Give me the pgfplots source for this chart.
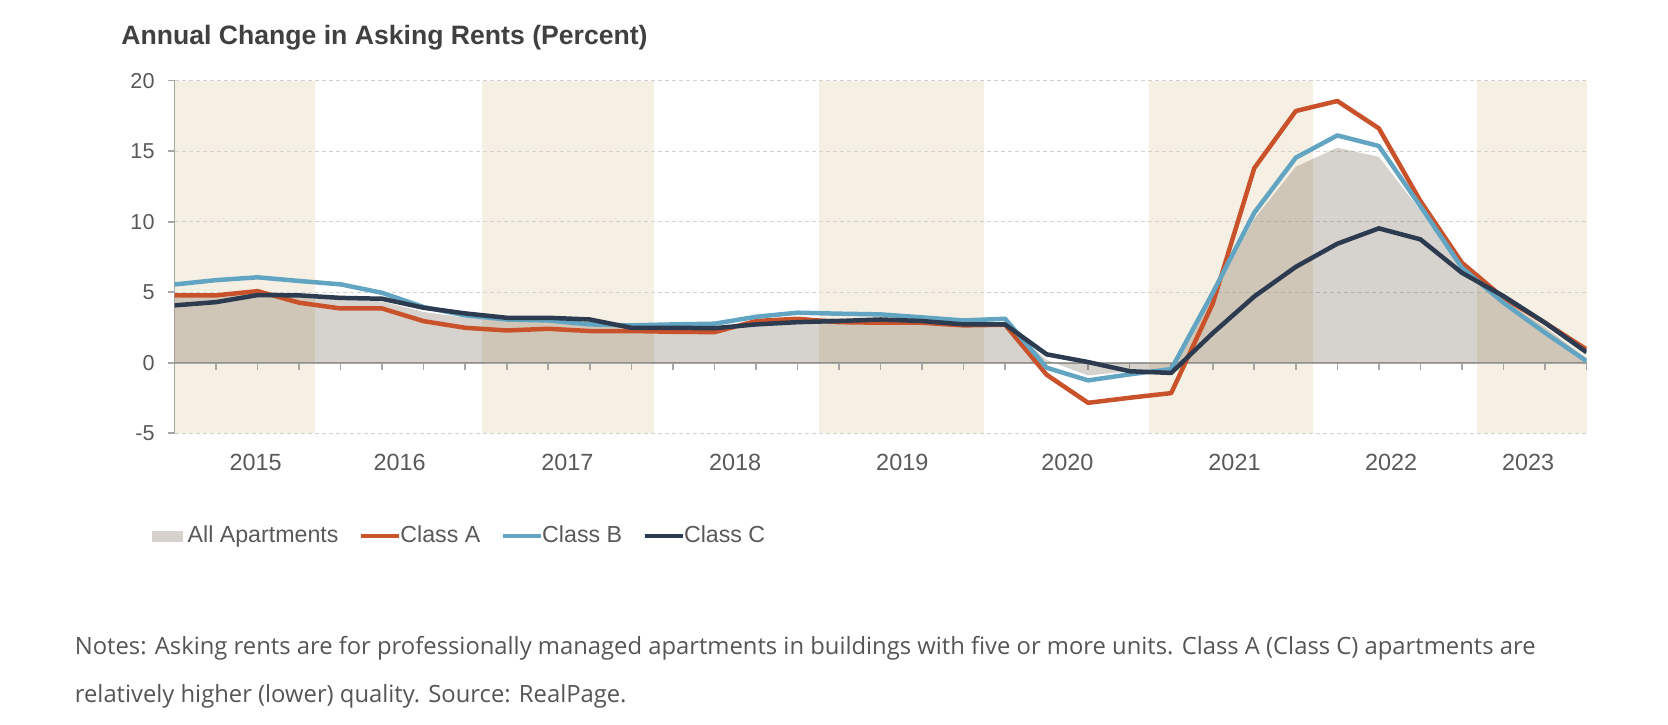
\documentclass[border=0pt]{standalone}
\usepackage{fontspec}
\setmainfont{Liberation Sans}
\newfontfamily\notesfont{Open Sans}
\usepackage{pgfplots}
\pgfplotsset{compat=1.18}

\definecolor{band}{HTML}{F6F0E4}
\definecolor{areaC}{RGB}{92,76,56}
\definecolor{clsA}{HTML}{C9522B}
\definecolor{clsB}{HTML}{62A5C2}
\definecolor{clsC}{HTML}{2C3B4F}
\definecolor{axisgray}{HTML}{A6A6A6}
\definecolor{gridgray}{HTML}{D2D2D2}
\definecolor{labelgray}{HTML}{595959}
\definecolor{titlegray}{HTML}{404040}
\definecolor{notegray}{HTML}{555555}

% quarterly series, 2015Q1 .. 2023Q3 (x = mid-quarter in years)
\begin{document}
\begin{tikzpicture}

\node[anchor=west, inner sep=0pt, text=titlegray, font=\fontsize{13.3bp}{15bp}\selectfont\bfseries]
  at (60.5bp,343.8bp) {Annual Change in Asking Rents (Percent)};

\begin{axis}[
  at={(87.25bp,145.85bp)}, anchor=south west,
  width=706bp, height=176.3bp, scale only axis,
  set layers,
  xmin=2015.125, xmax=2023.625, ymin=-5, ymax=20,
  axis x line=middle, axis y line=left,
  axis line style={-, draw=axisgray, line width=0.8bp},
  hide obscured x ticks=false, hide obscured y ticks=false,
  xtick={2015.375,2015.625,...,2023.7},
  xticklabels={},
  xtick align=outside, ytick align=outside,
  major tick length=3.5bp,
  tick style={axisgray, line width=0.8bp},
  extra x ticks={2015.614,2016.48,2017.49,2018.5,2019.506,2020.5,2021.506,2022.449,2023.274},
  extra x tick labels={2015,2016,2017,2018,2019,2020,2021,2022,2023},
  extra x tick style={major tick length=0pt, tick label style={yshift=-42bp}},
  ytick={-5,0,5,10,15,20},
  yticklabels={-5,0,5,10,15,20},
  ymajorgrids,
  grid style={gridgray, dash pattern=on 2bp off 1.5bp, line width=0.6bp},
  tick label style={text=labelgray},
  yticklabel style={font=\fontsize{10.8bp}{12bp}\selectfont, xshift=-3bp},
  xticklabel style={font=\fontsize{11.7bp}{13bp}\selectfont},
  legend style={at={(-0.0159,-0.2915)}, anchor=west, draw=none, fill=none,
    inner sep=0pt, legend columns=-1, text=labelgray,
    font=\fontsize{11.6bp}{13bp}\selectfont,
    nodes={inner sep=0.6bp},
    /tikz/every odd column/.append style={column sep=-1bp},
    /tikz/every even column/.append style={column sep=9.5bp}},
  legend cell align=left,
]
\pgfplotsextra{%
\begin{pgfonlayer}{axis background}
\fill[band] (axis cs:2015.125,-5) rectangle (axis cs:2015.97,20);
\fill[band] (axis cs:2016.976,-5) rectangle (axis cs:2018.01,20);
\fill[band] (axis cs:2019.005,-5) rectangle (axis cs:2019.995,20);
\fill[band] (axis cs:2020.99,-5) rectangle (axis cs:2021.977,20);
\fill[band] (axis cs:2022.965,-5) rectangle (axis cs:2023.625,20);
\end{pgfonlayer}}

\addplot[draw=none, fill=areaC, fill opacity=0.25,
  legend image code/.code={\fill[areaC, fill opacity=0.25] (0bp,-2.75bp) rectangle (15.5bp,2.75bp);
    \path (0bp,0bp) -- (18bp,0bp);}]
coordinates {
(2015.125,4.8) (2015.375,4.9) (2015.625,5.1) (2015.875,4.8)
(2016.125,4.5) (2016.375,4.35) (2016.625,3.6) (2016.875,3.2)
(2017.125,2.95) (2017.375,2.9) (2017.625,2.65) (2017.875,2.5)
(2018.125,2.5) (2018.375,2.45) (2018.625,2.95) (2018.875,3.2)
(2019.125,3.15) (2019.375,3.05) (2019.625,2.95) (2019.875,2.7)
(2020.125,2.75) (2020.375,0.2) (2020.625,-0.9) (2020.875,-0.6)
(2021.125,-0.45) (2021.375,4.7) (2021.625,10.2) (2021.875,13.9)
(2022.125,15.25) (2022.375,14.6) (2022.625,10.8) (2022.875,6.6)
(2023.125,4.45) (2023.375,2.5) (2023.625,0.3)
} \closedcycle;
\addlegendentry{All Apartments}

\addplot[clsA, line width=2.25bp, line join=round, no markers,
  legend image code/.code={\draw[clsA, line width=2.25bp] (0bp,0bp) -- (19bp,0bp);}]
coordinates {
(2015.125,4.78) (2015.375,4.78) (2015.625,5.08) (2015.875,4.26)
(2016.125,3.85) (2016.375,3.85) (2016.625,2.95) (2016.875,2.48)
(2017.125,2.29) (2017.375,2.41) (2017.625,2.25) (2017.875,2.25)
(2018.125,2.2) (2018.375,2.17) (2018.625,2.96) (2018.875,3.12)
(2019.125,2.88) (2019.375,2.84) (2019.625,2.84) (2019.875,2.65)
(2020.125,2.7) (2020.375,-0.85) (2020.625,-2.84) (2020.875,-2.48)
(2021.125,-2.15) (2021.375,4.2) (2021.625,13.8) (2021.875,17.85)
(2022.125,18.56) (2022.375,16.62) (2022.625,11.47) (2022.875,7.09)
(2023.125,4.6) (2023.375,2.84) (2023.625,0.95)
};
\addlegendentry{Class A}

\addplot[clsB, line width=2.25bp, line join=round, no markers,
  legend image code/.code={\draw[clsB, line width=2.25bp] (0bp,0bp) -- (19bp,0bp);}]
coordinates {
(2015.125,5.55) (2015.375,5.86) (2015.625,6.06) (2015.875,5.8)
(2016.125,5.56) (2016.375,4.96) (2016.625,3.95) (2016.875,3.36)
(2017.125,3.07) (2017.375,3.0) (2017.625,2.72) (2017.875,2.65)
(2018.125,2.72) (2018.375,2.77) (2018.625,3.26) (2018.875,3.55)
(2019.125,3.48) (2019.375,3.43) (2019.625,3.22) (2019.875,3.0)
(2020.125,3.12) (2020.375,-0.35) (2020.625,-1.25) (2020.875,-0.82)
(2021.125,-0.45) (2021.375,4.96) (2021.625,10.64) (2021.875,14.54)
(2022.125,16.12) (2022.375,15.37) (2022.625,11.1) (2022.875,6.74)
(2023.125,4.26) (2023.375,2.13) (2023.625,0.12)
};
\addlegendentry{Class B}

\addplot[clsC, line width=2.25bp, line join=round, no markers,
  legend image code/.code={\draw[clsC, line width=2.25bp] (0bp,0bp) -- (19bp,0bp);}]
coordinates {
(2015.125,4.07) (2015.375,4.3) (2015.625,4.8) (2015.875,4.78)
(2016.125,4.6) (2016.375,4.54) (2016.625,3.9) (2016.875,3.5)
(2017.125,3.19) (2017.375,3.19) (2017.625,3.07) (2017.875,2.48)
(2018.125,2.48) (2018.375,2.45) (2018.625,2.72) (2018.875,2.88)
(2019.125,2.96) (2019.375,3.07) (2019.625,2.96) (2019.875,2.72)
(2020.125,2.72) (2020.375,0.6) (2020.625,0.05) (2020.875,-0.6)
(2021.125,-0.72) (2021.375,2.1) (2021.625,4.7) (2021.875,6.8)
(2022.125,8.44) (2022.375,9.53) (2022.625,8.75) (2022.875,6.38)
(2023.125,4.73) (2023.375,2.84) (2023.625,0.75)
};
\addlegendentry{Class C}
\end{axis}

\node[anchor=base west, inner sep=0pt, text=notegray, font=\notesfont\fontsize{11.9bp}{14bp}\selectfont]
  at (37.25bp,35.5bp) {Notes: Asking rents are for professionally managed apartments in buildings with five or more units. Class A (Class C) apartments are};
\node[anchor=base west, inner sep=0pt, text=notegray, font=\notesfont\fontsize{11.9bp}{14bp}\selectfont]
  at (37.25bp,11.5bp) {relatively higher (lower) quality. Source: RealPage.};

\pgfresetboundingbox
\useasboundingbox (0,0) rectangle (834bp,362.5bp);
\end{tikzpicture}
\end{document}
